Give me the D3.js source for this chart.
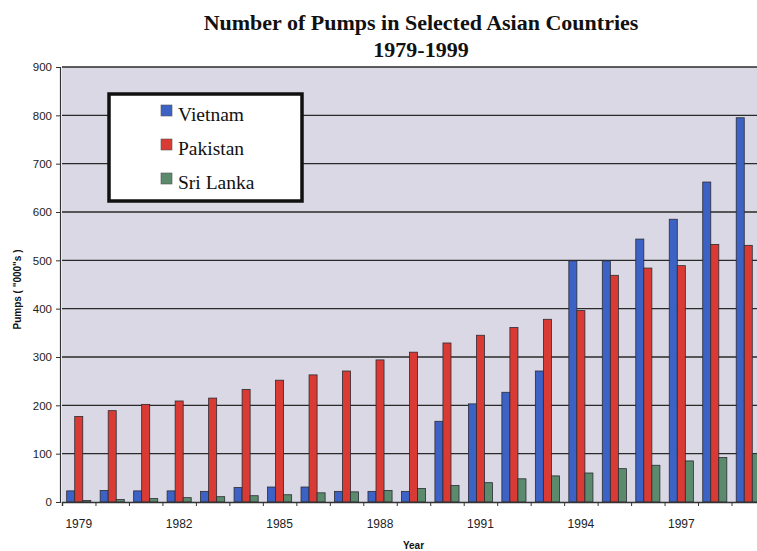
<!DOCTYPE html>
<html>
<head>
<meta charset="utf-8">
<script src="https://cdn.jsdelivr.net/npm/d3@7"></script>
<style>
  html, body { margin: 0; padding: 0; background: #fff; }
  svg { display: block; }
</style>
</head>
<body>
<svg id="chart" width="757" height="551"></svg>
<script>
// Number of pumps ('000s)
const years = d3.range(1979, 2000);
const seriesNames = ['Vietnam', 'Pakistan', 'Sri Lanka'];
const vietnam  = [23, 24, 23, 23, 22, 30, 31, 31, 22, 22, 22, 167, 203, 227, 271, 499, 499, 544, 585, 662, 795];
const pakistan = [177, 189, 202, 209, 215, 233, 252, 263, 271, 294, 310, 329, 345, 361, 378, 396, 469, 484, 489, 533, 531];
const sriLanka = [3, 5, 7, 9, 11, 13, 15, 19, 21, 24, 28, 34, 40, 48, 54, 60, 69, 76, 85, 92, 100];
const yTicks = d3.range(0, 901, 100);
const labelYears = [1979, 1982, 1985, 1988, 1991, 1994, 1997];
const colors = ['#3b62c4', '#d93b34', '#5b8b6c'];

const svg = d3.select('#chart');
const plot = {left: 62, right: 765, top: 67, bottom: 502};

const x0 = d3.scaleBand().domain(years).range([plot.left, plot.right]).paddingInner(0.28).paddingOuter(0.14);
const x1 = d3.scaleBand().domain(seriesNames).range([0, x0.bandwidth()]);
const y = d3.scaleLinear().domain([0, 900]).range([plot.bottom, plot.top]);
const xb = d3.scaleLinear().domain([0, years.length]).range([plot.left, plot.right]);
const color = d3.scaleOrdinal().domain(seriesNames).range(colors);

const rows = years.map((yr, i) => ({year: yr, values: [vietnam[i], pakistan[i], sriLanka[i]]}));

// plot background
svg.append('rect')
  .attr('x', plot.left).attr('y', plot.top)
  .attr('width', plot.right - plot.left).attr('height', plot.bottom - plot.top)
  .attr('fill', '#d9d8e4');

// gridlines
svg.append('g').selectAll('line').data(yTicks.filter(t => t > 0)).enter().append('line')
  .attr('x1', plot.left).attr('x2', plot.right)
  .attr('y1', d => y(d)).attr('y2', d => y(d))
  .attr('stroke', '#2a2a2a').attr('stroke-width', 1.4);

// bars
const groups = svg.append('g').selectAll('g').data(rows).enter().append('g')
  .attr('transform', d => `translate(${x0(d.year)},0)`);
groups.selectAll('rect').data(d => d.values.map((v, i) => ({name: seriesNames[i], value: v}))).enter().append('rect')
  .attr('x', d => x1(d.name))
  .attr('y', d => y(d.value))
  .attr('width', x1.bandwidth())
  .attr('height', d => y(0) - y(d.value))
  .attr('fill', d => color(d.name))
  .attr('stroke', '#2b2b33').attr('stroke-width', 0.8);

// y axis
const yAxis = svg.append('g').attr('transform', `translate(${plot.left - 2},0)`)
  .call(d3.axisLeft(y).tickValues(yTicks).tickSize(4).tickPadding(4));
yAxis.select('.domain').attr('stroke', '#333').attr('stroke-width', 1.2);
yAxis.selectAll('.tick line').attr('stroke', '#333');
yAxis.selectAll('text').attr('font-family', 'Liberation Sans, Arial, sans-serif').attr('font-size', 11.5).attr('fill', '#222');

// x axis: category boundary ticks
const xTicks = svg.append('g').attr('transform', `translate(0,${plot.bottom})`)
  .call(d3.axisBottom(xb).tickValues(d3.range(0, years.length + 1)).tickFormat('').tickSize(4));
xTicks.select('.domain').attr('stroke', '#333').attr('stroke-width', 1.4);
xTicks.selectAll('.tick line').attr('stroke', '#333');

// x axis labels every third year
const xLabels = svg.append('g').attr('transform', `translate(0,${plot.bottom})`)
  .call(d3.axisBottom(x0).tickValues(labelYears).tickSize(0).tickPadding(17));
xLabels.select('.domain').remove();
xLabels.selectAll('text').attr('font-family', 'Liberation Sans, Arial, sans-serif').attr('font-size', 12).attr('fill', '#222');

// titles
const title = svg.append('g').attr('font-family', 'Liberation Serif, Times New Roman, serif')
  .attr('font-weight', 'bold').attr('font-size', 22).attr('fill', '#111').attr('text-anchor', 'middle');
title.append('text').attr('x', 421).attr('y', 30).text('Number of Pumps in Selected Asian Countries');
title.append('text').attr('x', 421).attr('y', 57).text('1979-1999');

svg.append('text')
  .attr('x', (plot.left + plot.right) / 2).attr('y', 549)
  .attr('text-anchor', 'middle')
  .attr('font-family', 'Liberation Sans, Arial, sans-serif').attr('font-weight', 'bold').attr('font-size', 10)
  .attr('fill', '#111').text('Year');

svg.append('text')
  .attr('transform', `translate(21,${(plot.top + plot.bottom) / 2 + 5}) rotate(-90)`)
  .attr('text-anchor', 'middle')
  .attr('font-family', 'Liberation Sans, Arial, sans-serif').attr('font-weight', 'bold').attr('font-size', 10)
  .attr('fill', '#111').text('Pumps ( "000"s )');

// legend
const legend = svg.append('g');
legend.append('rect')
  .attr('x', 109).attr('y', 94).attr('width', 193).attr('height', 107)
  .attr('fill', '#fff').attr('stroke', '#111').attr('stroke-width', 3.5);
const items = legend.selectAll('g.item').data(seriesNames).enter().append('g')
  .attr('class', 'item')
  .attr('transform', (d, i) => `translate(161,${105 + i * 34})`);
items.append('rect')
  .attr('width', 11).attr('height', 11)
  .attr('fill', d => color(d)).attr('stroke', '#555').attr('stroke-width', 0.6);
items.append('text')
  .attr('x', 17).attr('y', 16)
  .attr('font-family', 'Liberation Serif, Times New Roman, serif').attr('font-size', 19.5)
  .attr('fill', '#111').text(d => d);
</script>
</body>
</html>
